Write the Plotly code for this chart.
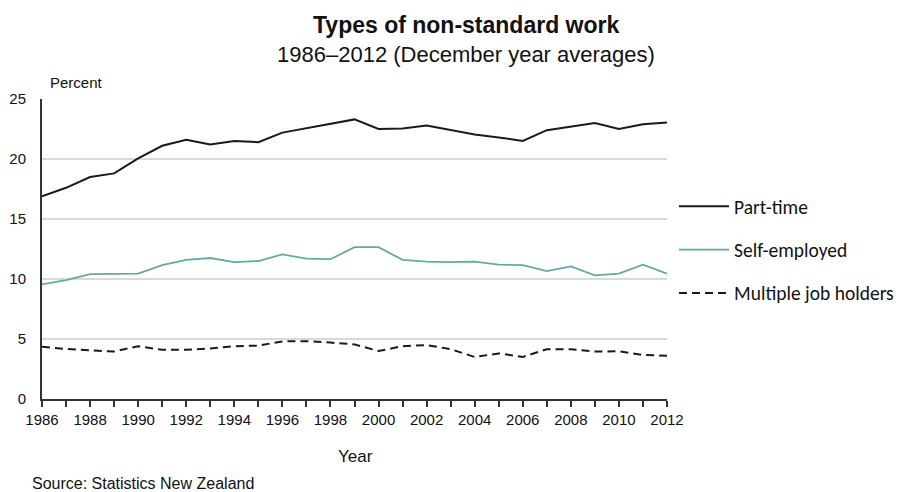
import plotly.graph_objects as go

years = list(range(1986, 2013))
part_time = [16.9, 17.6, 18.5, 18.8, 20.05, 21.1, 21.6, 21.2, 21.5, 21.4, 22.2, 22.55, 22.95, 23.3,
             22.5, 22.55, 22.8, 22.4, 22.05, 21.8, 21.5, 22.4, 22.7, 23.0, 22.5, 22.9, 23.05]
self_employed = [9.55, 9.9, 10.4, 10.45, 10.45, 11.15, 11.6, 11.75, 11.4, 11.5, 12.05, 11.7, 11.65, 12.65,
                 12.65, 11.6, 11.45, 11.4, 11.45, 11.2, 11.15, 10.65, 11.05, 10.3, 10.45, 11.2, 10.45]
multiple_jobs = [4.36, 4.17, 4.05, 3.95, 4.4, 4.1, 4.1, 4.2, 4.4, 4.45, 4.8, 4.82, 4.7, 4.55,
                 4.0, 4.4, 4.5, 4.15, 3.5, 3.8, 3.5, 4.15, 4.15, 3.95, 3.98, 3.67, 3.6]

# page has an 8px body margin; work in screen pixels and convert
OFF = 8
W, H = 904 - OFF, 492 - OFF
L, R, T, B = 42, 667, 99, 399  # screen-pixel plot box


def px(x):
    return (x - L) / (R - L)


def py(y):
    return (B - y) / (B - T)


fig = go.Figure()
fig.add_trace(go.Scatter(x=years, y=part_time, mode="lines", name="Part-time",
                         line=dict(color="#1a1a1a", width=2), legendgroup="a"))
fig.add_trace(go.Scatter(x=years, y=self_employed, mode="lines", name="Self-employed",
                         line=dict(color="#66a8a5", width=1.8), legendgroup="b"))
fig.add_trace(go.Scatter(x=years, y=multiple_jobs, mode="lines", name="Multiple job holders",
                         line=dict(color="#1a1a1a", width=2, dash="8px,5px"), legendgroup="c"))

FONT = "Liberation Sans Narrow, Arial Narrow, Liberation Sans, Arial"
tickfont = dict(family=FONT, size=15, color="#111")

fig.update_layout(
    width=W, height=H,
    margin=dict(l=L - OFF, r=W - (R - OFF), t=T - OFF, b=H - (B - OFF), pad=0, autoexpand=False),
    plot_bgcolor="white", paper_bgcolor="white",
    showlegend=True,
    legend=dict(x=px(674), y=py(187), xanchor="left", yanchor="top",
                font=dict(family="Carlito, Lato, Noto Sans", size=19.5, color="#111"),
                tracegroupgap=15, itemwidth=50, bgcolor="rgba(0,0,0,0)"),
    xaxis=dict(range=[1986, 2012], dtick=2, tick0=1986, showgrid=False, zeroline=False,
               showline=True, linecolor="#333", linewidth=2, automargin=False,
               ticks="outside", ticklen=6, tickcolor="#333", tickwidth=1.5,
               minor=dict(dtick=1, ticks="outside", ticklen=6, tickcolor="#333", tickwidth=1.5),
               tickfont=tickfont),
    yaxis=dict(range=[0, 25], dtick=5, showgrid=True, gridcolor="#d9d9d9", gridwidth=1.5,
               zeroline=False, showline=True, linecolor="#333", linewidth=2, automargin=False,
               ticks="outside", ticklen=11, tickcolor="rgba(0,0,0,0)", tickfont=tickfont),
    annotations=[
        dict(text="<b>Types of non-standard work</b>", x=px(466), y=py(25), xref="paper", yref="paper",
             showarrow=False, xanchor="center", yanchor="middle",
             font=dict(family=FONT, size=23, color="#111")),
        dict(text="1986–2012 (December year averages)", x=px(466), y=py(55), xref="paper", yref="paper",
             showarrow=False, xanchor="center", yanchor="middle",
             font=dict(family=FONT, size=22, color="#111")),
        dict(text="Percent", x=px(48), y=py(82), xref="paper", yref="paper", showarrow=False,
             xanchor="left", yanchor="middle",
             font=dict(family=FONT, size=15, color="#111")),
        dict(text="Year", x=px(355), y=py(456), xref="paper", yref="paper", showarrow=False,
             xanchor="center", yanchor="middle",
             font=dict(family=FONT, size=17, color="#111")),
        dict(text="Source: Statistics New Zealand", x=px(30), y=py(483), xref="paper", yref="paper",
             showarrow=False, xanchor="left", yanchor="middle",
             font=dict(family=FONT, size=16, color="#111")),
    ],
)

fig.write_html("out.html")
